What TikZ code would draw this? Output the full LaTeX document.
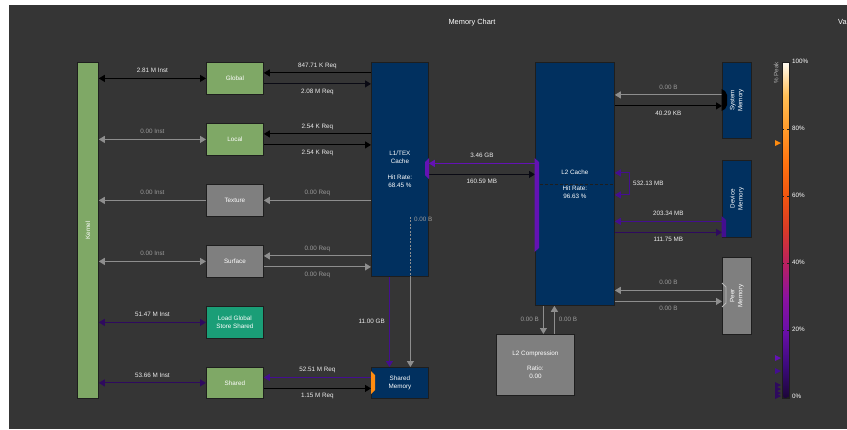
\documentclass[tikz,border=0pt]{standalone}
\usepackage{fontspec}
\setmainfont{Liberation Sans}
\usetikzlibrary{arrows.meta,calc}
\definecolor{bg}{HTML}{353535}
\definecolor{kgreen}{HTML}{7FA866}
\definecolor{kgrey}{HTML}{7F7F7F}
\definecolor{kteal}{HTML}{1A9E77}
\definecolor{kblue}{HTML}{01305F}
\definecolor{bord}{HTML}{1E1E1E}
\definecolor{agrey}{HTML}{8E8E8E}
\definecolor{lgrey}{HTML}{9A9A9A}
\definecolor{lwhite}{HTML}{EDEDED}
\definecolor{pdark}{HTML}{2E0A5E}
\definecolor{pmid}{HTML}{440E90}
\definecolor{pbright}{HTML}{6412B4}
\definecolor{nblack}{HTML}{0A0A14}
\definecolor{porange}{HTML}{FF8C10}
\definecolor{p0}{HTML}{1C0638}
\definecolor{p10}{HTML}{3E0A80}
\definecolor{p20}{HTML}{6A0FA8}
\definecolor{p30}{HTML}{8C12A0}
\definecolor{p40}{HTML}{B82060}
\definecolor{p50}{HTML}{D83A28}
\definecolor{p60}{HTML}{F05510}
\definecolor{p70}{HTML}{FF7310}
\definecolor{p80}{HTML}{FF9A2A}
\definecolor{p90}{HTML}{FFBE55}
\definecolor{p100}{HTML}{FFFCF4}
\pgfdeclareverticalshading{peakshade}{100bp}{color(0bp)=(p0); color(25bp)=(p0); color(30bp)=(p10); color(35bp)=(p20); color(40bp)=(p30); color(45bp)=(p40); color(50bp)=(p50); color(55bp)=(p60); color(60bp)=(p70); color(65bp)=(p80); color(70bp)=(p90); color(75bp)=(p100); color(100bp)=(p100)}
\newcommand{\fsz}{\fontsize{6.3}{8}\selectfont}
\begin{document}
\begin{tikzpicture}[x=1pt,y=-1pt,
  box/.style={draw=bord, line width=0.8pt, inner sep=0pt, anchor=north west, text=white, font=\fsz, align=center},
  rot/.style={rotate=90, text=white, font=\fsz, align=center, inner sep=0pt},
  lbl/.style={text=lwhite, font=\fsz, inner sep=0pt, text height=4.5pt, text depth=1pt},
  glbl/.style={text=lgrey, font=\fsz, inner sep=0pt, text height=4.5pt, text depth=1pt},
  arr/.style={line width=1.1pt, -{Triangle[length=6pt,width=7pt]}},
  darr/.style={line width=1.1pt, {Triangle[length=6pt,width=7pt]}-{Triangle[length=6pt,width=7pt]}},
  up/.style={midway, yshift=7.5pt},
  dn/.style={midway, yshift=-7.5pt}
]
\useasboundingbox (0,0) rectangle (847,429);
\fill[white] (0,0) rectangle (847,429);
\fill[bg] (9,5) rectangle (847,429);

\node[lbl, text=white, font=\fontsize{7.4}{9}\selectfont] (ttl) at (472,23) {Memory Chart};
\node[lbl, text=white, anchor=west, font=\fontsize{7.4}{9}\selectfont] (va) at (838,23) {Va};

% boxes
\node[box, fill=kgreen, minimum width=21pt, minimum height=336pt] (kernel) at (77,62) {};
\node[rot] (kernell) at (kernel.center) {Kernel};
\node[box, fill=kgreen, minimum width=57pt, minimum height=32pt] (global) at (206,62) {Global};
\node[box, fill=kgreen, minimum width=57pt, minimum height=32pt] (local) at (206,123) {Local};
\node[box, fill=kgrey, minimum width=57pt, minimum height=32pt] (texture) at (206,184) {Texture};
\node[box, fill=kgrey, minimum width=57pt, minimum height=32pt] (surface) at (206,245) {Surface};
\node[box, fill=kteal, minimum width=57pt, minimum height=32pt] (lgss) at (206,306) {Load Global\\Store Shared};
\node[box, fill=kgreen, minimum width=57pt, minimum height=31pt] (shared) at (206,367) {Shared};
\node[box, fill=kblue, minimum width=57pt, minimum height=214pt] (l1) at (371,62) {L1/TEX\\Cache\\[8pt]Hit Rate:\\68.45 \%};
\node[box, fill=kblue, minimum width=57pt, minimum height=31pt] (smem) at (371,367) {Shared\\Memory};
\node[box, fill=kblue, minimum width=79pt, minimum height=243pt] (l2) at (535,62) {};
\node[box, fill=kblue, minimum width=29pt, minimum height=76pt] (sysm) at (722,62) {};
\node[rot] (sysml) at (sysm.center) {System\\Memory};
\node[box, fill=kblue, minimum width=29pt, minimum height=77pt] (devm) at (722,160) {};
\node[rot] (devml) at (devm.center) {Device\\Memory};
\node[box, fill=kgrey, minimum width=29pt, minimum height=77pt] (peer) at (722,257) {};
\node[rot] (peerl) at (peer.center) {Peer\\Memory};
\node[box, fill=kgrey, minimum width=78pt, minimum height=61pt] (l2c) at (496,334) {L2 Compression\\[7pt]Ratio:\\0.00};

% L2 internals
\draw[bord, line width=0.7pt, dash pattern=on 3pt off 2pt] (l2.west) -- (l2.east);
\node[text=white, font=\fsz, align=center, inner sep=0pt, anchor=base] (l2t) at ($(l2.center)+(0,-9)$) {L2 Cache};
\node[text=white, font=\fsz, align=center, inner sep=0pt, anchor=north] (l2h) at ($(l2.center)+(0,1.5)$) {Hit Rate:\\96.63 \%};

% kernel arrows
\draw[darr, draw=black] (kernel.east |- global.west) -- (global.west) node[lbl, up] (k1) {2.81 M Inst};
\draw[darr, draw=agrey] (kernel.east |- local.west) -- (local.west) node[glbl, up] (k2) {0.00 Inst};
\draw[arr, draw=agrey] (texture.west) -- (kernel.east |- texture.west) node[glbl, up] (k3) {0.00 Inst};
\draw[darr, draw=agrey] (kernel.east |- surface.west) -- (surface.west) node[glbl, up] (k4) {0.00 Inst};
\draw[darr, draw=pdark] (kernel.east |- lgss.west) -- (lgss.west) node[lbl, up] (k5) {51.47 M Inst};
\draw[darr, draw=pdark] (kernel.east |- shared.west) -- (shared.west) node[lbl, up] (k6) {53.66 M Inst};

% box <-> L1
\draw[arr, draw=black] ($(global.east -| l1.west)+(0,-5.5)$) -- ($(global.east)+(0,-5.5)$) node[lbl, up] (r1) {847.71 K Req};
\draw[arr, draw=nblack] ($(global.east)+(0,5.5)$) -- ($(global.east -| l1.west)+(0,5.5)$) node[lbl, dn] (r2) {2.08 M Req};
\draw[arr, draw=black] ($(local.east -| l1.west)+(0,-5.5)$) -- ($(local.east)+(0,-5.5)$) node[lbl, up] (r3) {2.54 K Req};
\draw[arr, draw=black] ($(local.east)+(0,5.5)$) -- ($(local.east -| l1.west)+(0,5.5)$) node[lbl, dn] (r4) {2.54 K Req};
\draw[arr, draw=agrey] (texture.east -| l1.west) -- (texture.east) node[glbl, up] (r5) {0.00 Req};
\draw[arr, draw=agrey] ($(surface.east -| l1.west)+(0,-5.5)$) -- ($(surface.east)+(0,-5.5)$) node[glbl, up] (r6) {0.00 Req};
\draw[arr, draw=agrey] ($(surface.east)+(0,5.5)$) -- ($(surface.east -| l1.west)+(0,5.5)$) node[glbl, dn] (r7) {0.00 Req};
\draw[arr, draw=pmid] ($(shared.east -| smem.west)+(0,-5.5)$) -- ($(shared.east)+(0,-5.5)$) node[lbl, up] (r8) {52.51 M Req};
\draw[arr, draw=black] ($(shared.east)+(0,5.5)$) -- ($(shared.east -| smem.west)+(0,5.5)$) node[lbl, dn] (r9) {1.15 M Req};

% L1 -> shared memory
\draw[arr, draw=pmid] ($(l1.south)+(-10.5,0)$) -- ($(smem.north)+(-10.5,0)$) node[lbl, pos=0.5, anchor=east, xshift=-4pt] (s1) {11.00 GB};
\draw[agrey, line width=1.1pt, dash pattern=on 2pt off 1.5pt] ($(l1.south)+(10.5,-60)$) -- ($(l1.south)+(10.5,0)$);
\draw[arr, draw=agrey] ($(l1.south)+(10.5,0)$) -- ($(smem.north)+(10.5,0)$);
\node[glbl, anchor=west] (s2) at ($(l1.south)+(14,-57)$) {0.00 B};

% L1 <-> L2
\draw[arr, draw=pbright] ($(l2.west |- l1.east)+(0,-6)$) -- ($(l1.east)+(0,-6)$) node[lbl, up] (m1) {3.46 GB};
\draw[arr, draw=nblack] ($(l1.east)+(0,5)$) -- ($(l2.west |- l1.east)+(0,5)$) node[lbl, dn] (m2) {160.59 MB};
\fill[pbright] (429,158) -- (425,162) -- (425,175) -- (429,179) -- cycle;
\fill[pbright] (534.5,158) -- (539,162) -- (539,248) -- (534.5,252) -- cycle;

% L2 self loop
\draw[darr, draw=pmid] ($(l2.east)+(0,-11)$) -- ++(15,0) -- ++(0,22) -- ($(l2.east)+(0,11)$);
\node[lbl, anchor=west] (loopl) at ($(l2.east)+(18,0)$) {532.13 MB};

% L2 <-> memories
\draw[arr, draw=agrey] ($(sysm.west)+(0,-5.5)$) -- ($(sysm.west -| l2.east)+(0,-5.5)$) node[glbl, up] (y1) {0.00 B};
\draw[arr, draw=black] ($(sysm.west -| l2.east)+(0,5.5)$) -- ($(sysm.west)+(0,5.5)$) node[lbl, dn] (y2) {40.29 KB};
\fill[black] (721.5,89) -- (725,91) -- (727,95) -- (727,105) -- (725,109) -- (721.5,111) -- cycle;
\draw[arr, draw=pmid] ($(devm.west)+(0,22.5)$) -- ($(devm.west -| l2.east)+(0,22.5)$) node[lbl, up] (d1) {203.34 MB};
\draw[arr, draw=pdark] ($(devm.west -| l2.east)+(0,33.5)$) -- ($(devm.west)+(0,33.5)$) node[lbl, dn] (d2) {111.75 MB};
\fill[pmid] (721.5,216) -- (726,220) -- (726,237) -- (721.5,237) -- cycle;
\draw[arr, draw=agrey] ($(peer.west)+(0,-5.5)$) -- ($(peer.west -| l2.east)+(0,-5.5)$) node[glbl, up] (e1) {0.00 B};
\draw[arr, draw=agrey] ($(peer.west -| l2.east)+(0,5.5)$) -- ($(peer.west)+(0,5.5)$) node[glbl, dn] (e2) {0.00 B};
\draw[agrey!60!white, line width=0.8pt] (722,283) -- (726,287) -- (726,303) -- (722,307);

% L2 <-> L2 compression
\draw[arr, draw=agrey] ($(l2.south)+(-31.5,0)$) -- ($(l2c.north -| l2.south)+(-31.5,0)$) node[glbl, midway, anchor=east, xshift=-4pt] (c1) {0.00 B};
\draw[arr, draw=agrey] ($(l2c.north -| l2.south)+(-20.5,0)$) -- ($(l2.south)+(-20.5,0)$) node[glbl, midway, anchor=west, xshift=4pt] (c2) {0.00 B};

% orange port on shared memory
\fill[porange] (371,371) -- (375,375) -- (375,390) -- (371,394) -- cycle;

% colour bar
\shade[shading=peakshade] (782,62) rectangle (789,398);
\draw[bord, line width=0.8pt] (782,62) rectangle (789,398);
\foreach \yy/\tt in {62/100\%,129/80\%,196/60\%,263/40\%,330/20\%,397/0\%}{
  \draw[bord, line width=0.6pt] (782,\yy) -- (784,\yy) (787,\yy) -- (789,\yy);
  \node[lbl, text=white, anchor=west] (tick\yy) at (792,\yy) {\tt};
}
\node[rot, text=lgrey!80!white] (peakl) at (776,73) {\% Peak};
\fill[porange] (775,140) -- (781,143) -- (775,146) -- cycle;
\fill[pbright] (775,355) -- (781,358) -- (775,361) -- cycle;
\fill[pmid] (775,368) -- (781,371) -- (775,374) -- cycle;
\foreach \yy in {385,389,393,396}{
  \fill[pdark] (775,\yy-3) -- (781,\yy) -- (775,\yy+3) -- cycle;
}
\end{tikzpicture}
\end{document}
